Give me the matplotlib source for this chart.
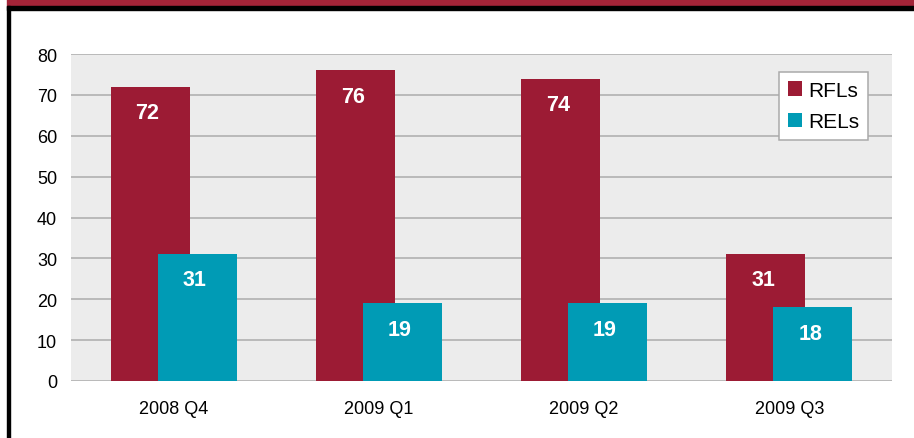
import numpy as np
import matplotlib.pyplot as plt
from matplotlib.patches import Rectangle

plt.rcParams['font.family'] = ['Liberation Sans', 'DejaVu Sans']

quarters = ['2008 Q4', '2009 Q1', '2009 Q2', '2009 Q3']
rfls = [72, 76, 74, 31]
rels = [31, 19, 19, 18]

red = '#9c1b34'
teal = '#009bb5'

fig = plt.figure(figsize=(9.14, 4.39), dpi=100)
W, H = 914, 439

# header band and frame
fig.patches.append(Rectangle((7 / W, 1 - 7 / H), 1, 7 / H, transform=fig.transFigure,
                             color='#a32438', zorder=0))
fig.patches.append(Rectangle((7 / W, 1 - 11 / H), 1, 4 / H, transform=fig.transFigure,
                             color='black', zorder=0))
fig.patches.append(Rectangle((7 / W, 0), 3 / W, 1 - 7 / H, transform=fig.transFigure,
                             color='black', zorder=0))

ax = fig.add_axes([71 / W, 1 - 382 / H, 821 / W, 327 / H])
ax.set_facecolor('#ececec')

x = np.arange(len(quarters))
w = 0.385
off = 0.1145
b1 = ax.bar(x - off, rfls, w, color=red, zorder=2, label='RFLs')
b2 = ax.bar(x + off, rels, w, color=teal, zorder=3, label='RELs')

for bars, vals in ((b1, rfls), (b2, rels)):
    for b, v in zip(bars, vals):
        ax.annotate(str(v), (b.get_x() + b.get_width() / 2, v), xytext=(-2, -18.5),
                    textcoords='offset points', ha='center', va='center',
                    color='white', fontsize=15.5, fontweight='bold', zorder=4)

ax.set_xlim(-0.5, 3.5)
ax.set_ylim(0, 80)
ax.set_yticks(range(0, 81, 10))
ax.set_xticks(x)
ax.set_xticklabels(quarters)
ax.yaxis.grid(True, color='#ababab', linewidth=1.1, zorder=1)
ax.set_axisbelow(True)
for s in ax.spines.values():
    s.set_visible(False)
ax.tick_params(axis='both', length=0, labelsize=13)
ax.tick_params(axis='y', pad=10)
ax.tick_params(axis='x', pad=14)

leg = ax.legend(loc='upper right', bbox_to_anchor=(797 / 821, 309 / 327), borderaxespad=0,
                fontsize=15, fancybox=False, framealpha=1, edgecolor='#aaaaaa',
                handlelength=0.67, handleheight=0.67, handletextpad=0.3,
                labelspacing=0.6, borderpad=0.42)
leg.get_frame().set_linewidth(1.1)

plt.savefig('out.png', dpi=100)
